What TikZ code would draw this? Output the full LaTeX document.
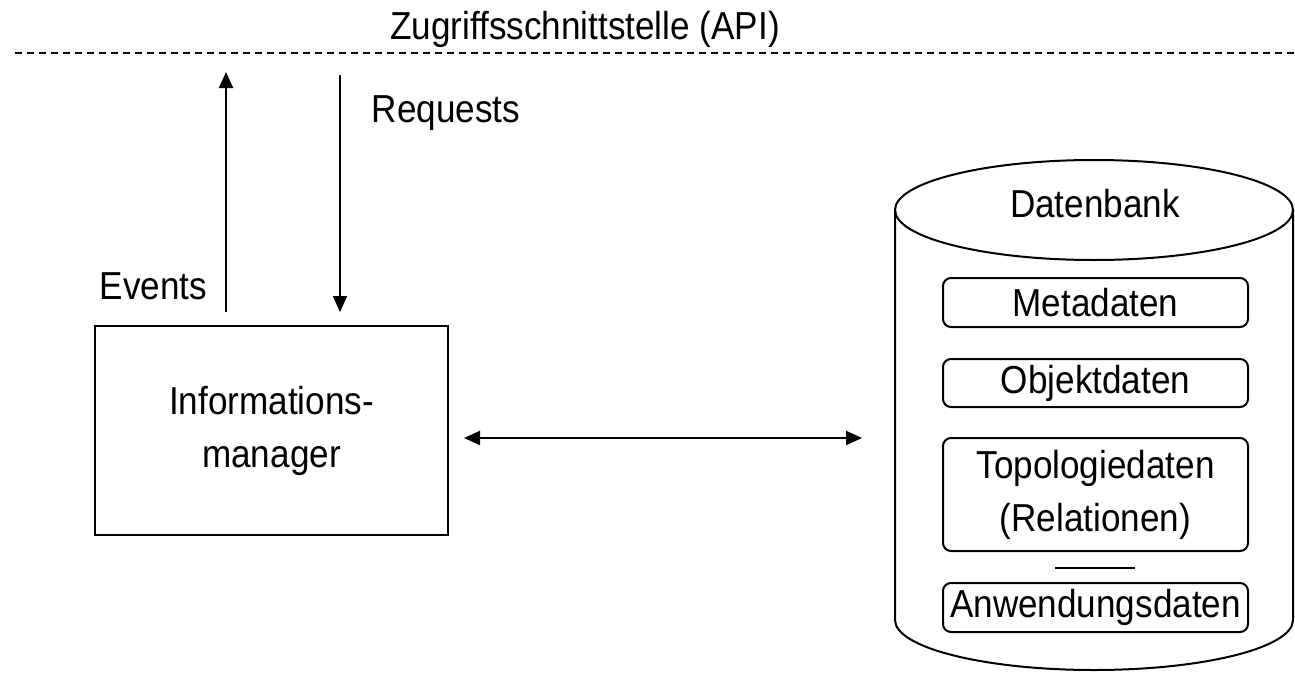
\documentclass[tikz,border=0pt]{standalone}
\usepackage{fontspec}
\setmainfont{Liberation Sans}[FakeStretch=0.9]
\usetikzlibrary{arrows.meta}

\begin{document}
\begin{tikzpicture}[x=0.5pt, y=0.5pt, line width=1pt,
		font=\fontsize{19.5}{26.5}\selectfont,
		pfeil/.style={-{Triangle[length=8pt,width=7pt]}},
		datenfeld/.style={draw, rounded corners=4pt, minimum width=152.5pt, inner sep=0pt, align=center}]
				\useasboundingbox (0,0) rectangle (1295,677);
				% API-Linie
				\coordinate (L)at(15, 624);
				\coordinate (R)at(1295, 624);
				\draw[dash pattern=on 3.5pt off 2.5pt] (L) -- (R);
				\node[anchor=base] (api)at(585, 638) {Zugriffsschnittstelle (API)};
				% Informationsmanager
				\node[draw, minimum width=176.5pt, minimum height=104.5pt, align=center] (IM)at(271.5, 246.5) {Informations-\\manager};
				\coordinate (E1)at(226, 365);
				\coordinate (E2)at(226, 605);
				\coordinate (Q1)at(340, 602);
				\coordinate (Q2)at(340, 365);
				\draw[pfeil] (E1) -- (E2);
				\draw[pfeil] (Q1) -- (Q2);
				\node[anchor=base west] (ev)at(92, 378) {Events};
				\node[anchor=base west] (req)at(364, 555) {Requests};
				% Datenbank
				\draw (1094, 467) ellipse [x radius=199, y radius=50];
				\draw (895, 467) -- (895, 57) arc[start angle=180, end angle=360, x radius=199, y radius=50] -- (1293, 467);
				\node[anchor=base] (DB)at(1095, 460) {Datenbank};
				\node[datenfeld, minimum height=24.5pt] (M)at(1095.5, 374.5) {Metadaten};
				\node[datenfeld, minimum height=24pt] (O)at(1095.5, 294) {Objektdaten};
				\node[datenfeld, minimum height=56.5pt] (T)at(1095.5, 182.5) {Topologiedaten\\(Relationen)};
				\node[datenfeld, minimum height=24.5pt] (A)at(1095.5, 69.5) {Anwendungsdaten};
				\draw[line width=0.8pt] (1055, 109) -- (1135, 109);
				% Verbindung
				\coordinate (V1)at(464, 239);
				\coordinate (V2)at(862, 239);
				\draw[{Triangle[length=8pt,width=7pt]}-{Triangle[length=8pt,width=7pt]}] (V1) -- (V2);
			\end{tikzpicture}
\end{document}
